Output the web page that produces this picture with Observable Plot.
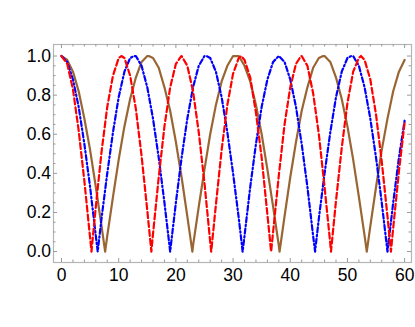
<!DOCTYPE html>
<html><head><meta charset="utf-8">
<script src="https://cdn.jsdelivr.net/npm/d3@7"></script>
<script src="https://cdn.jsdelivr.net/npm/@observablehq/plot@0.6"></script>
<style>
body{margin:0;background:#fff}
#chart svg text{font-family:"Liberation Sans",Arial,sans-serif !important;font-size:17.5px !important;fill:#000}
</style>
</head><body><div id="chart"></div>
<script>
const xs = [0,1,2,3,4,5,6,7,8,9,10,11,12,13,14,15,16,17,18,19,20,21,22,23,24,25,26,27,28,29,30,31,32,33,34,35,36,37,38,39,40,41,42,43,44,45,46,47,48,49,50,51,52,53,54,55,56,57,58,59,60];

const red = [1.00,0.96,0.83,0.62,0.36,0.07,0.23,0.51,0.74,0.90,0.99,0.99,0.90,0.73,0.49,0.21,0.09,0.38,0.64,0.84,0.96,1.00,0.95,0.82,0.61,0.35,0.05,0.24,0.52,0.75,0.91,0.99,0.98,0.89,0.71,0.48,0.19,0.10,0.39,0.65,0.84,0.96,1.00,0.95,0.81,0.60,0.33,0.04,0.26,0.53,0.76,0.92,0.99,0.98,0.88,0.70,0.46,0.18,0.12,0.41,0.66];
const redExtraX = [5.24,10.47,15.71,20.94,26.18,31.42,36.65,41.89,47.12,52.36,57.60];
const redExtraY = [0,1,0,1,0,1,0,1,0,1,0];

const blue = [1.00,0.97,0.88,0.74,0.55,0.33,0.08,0.17,0.40,0.61,0.79,0.92,0.99,1.00,0.95,0.84,0.68,0.48,0.25,0.00,0.25,0.48,0.68,0.84,0.95,1.00,0.99,0.92,0.79,0.61,0.40,0.17,0.08,0.33,0.55,0.74,0.88,0.97,1.00,0.97,0.88,0.74,0.55,0.33,0.08,0.17,0.40,0.61,0.79,0.92,0.99,1.00,0.95,0.84,0.68,0.48,0.25,0.00,0.25,0.48,0.67];
const blueExtraX = [6.33,12.67,25.33,31.67,44.34,50.67];
const blueExtraY = [0,1,1,0,0,1];

const brown = [1.00,0.98,0.92,0.82,0.68,0.52,0.33,0.13,0.08,0.28,0.47,0.64,0.78,0.89,0.97,1.00,0.99,0.94,0.84,0.72,0.56,0.38,0.18,0.03,0.23,0.42,0.60,0.75,0.87,0.95,1.00,1.00,0.95,0.87,0.75,0.60,0.42,0.23,0.03,0.18,0.38,0.56,0.72,0.84,0.94,0.99,1.00,0.97,0.89,0.78,0.64,0.47,0.28,0.08,0.13,0.33,0.52,0.68,0.82,0.92,0.98];
const brownExtraX = [7.63,15.25,22.88,30.50,38.13,45.75,53.38];
const brownExtraY = [0,1,0,1,0,1,0];

const xTicks = [0,10,20,30,40,50,60];
const xMinor = [2,4,6,8,12,14,16,18,22,24,26,28,32,34,36,38,42,44,46,48,52,54,56,58];
const yTicks = [0,0.2,0.4,0.6,0.8,1.0];
const yTickLabels = ["0.0","0.2","0.4","0.6","0.8","1.0"];
const yMinor = [0.05,0.1,0.15,0.25,0.3,0.35,0.45,0.5,0.55,0.65,0.7,0.75,0.85,0.9,0.95];

function series(ys, ex, ey) {
  const pts = xs.map((x, i) => ({x, y: ys[i]}));
  ex.forEach((x, i) => pts.push({x, y: ey[i]}));
  return pts.sort((a, b) => a.x - b.x);
}

const W = 415, H = 327, mL = 53, mR = 4, mT = 44, mB = 65;
const iw = W - mL - mR, ih = H - mT - mB;
const tickC = "#9a9a9a";
const maj = 4, mnr = 2.5;

const chart = Plot.plot({
  width: W, height: H,
  marginLeft: mL, marginRight: mR, marginTop: mT, marginBottom: mB,
  style: {background: "#fff", color: "#000"},
  x: {domain: [-1.4, 61.2]},
  y: {domain: [-0.056, 1.059]},
  marks: [
    Plot.frame({stroke: "#b5b5b5", strokeWidth: 1.2}),
    Plot.tickX(xTicks, {x: d => d, stroke: tickC, insetTop: ih - maj}),
    Plot.tickX(xTicks, {x: d => d, stroke: tickC, insetBottom: ih - maj}),
    Plot.tickX(xMinor, {x: d => d, stroke: tickC, insetTop: ih - mnr}),
    Plot.tickX(xMinor, {x: d => d, stroke: tickC, insetBottom: ih - mnr}),
    Plot.tickY(yTicks, {y: d => d, stroke: tickC, insetRight: iw - maj}),
    Plot.tickY(yTicks, {y: d => d, stroke: tickC, insetLeft: iw - maj}),
    Plot.tickY(yMinor, {y: d => d, stroke: tickC, insetRight: iw - mnr}),
    Plot.tickY(yMinor, {y: d => d, stroke: tickC, insetLeft: iw - mnr}),
    Plot.axisX({ticks: xTicks, tickSize: 0, tickPadding: 6, label: null, tickFormat: d => String(d)}),
    Plot.axisY({ticks: yTicks, tickSize: 0, tickPadding: 2.5, label: null, tickFormat: (d, i) => yTickLabels[i]}),
    Plot.line(series(brown, brownExtraX, brownExtraY), {x: "x", y: "y", stroke: "#996633", strokeWidth: 2.2}),
    Plot.line(series(blue, blueExtraX, blueExtraY), {x: "x", y: "y", stroke: "#0000ff", strokeWidth: 2.2, strokeDasharray: "5,2.5,1.5,2.5"}),
    Plot.line(series(red, redExtraX, redExtraY), {x: "x", y: "y", stroke: "#ff0000", strokeWidth: 2.2, strokeDasharray: "6,3"})
  ]
});
document.getElementById("chart").appendChild(chart);
</script>
</body></html>
